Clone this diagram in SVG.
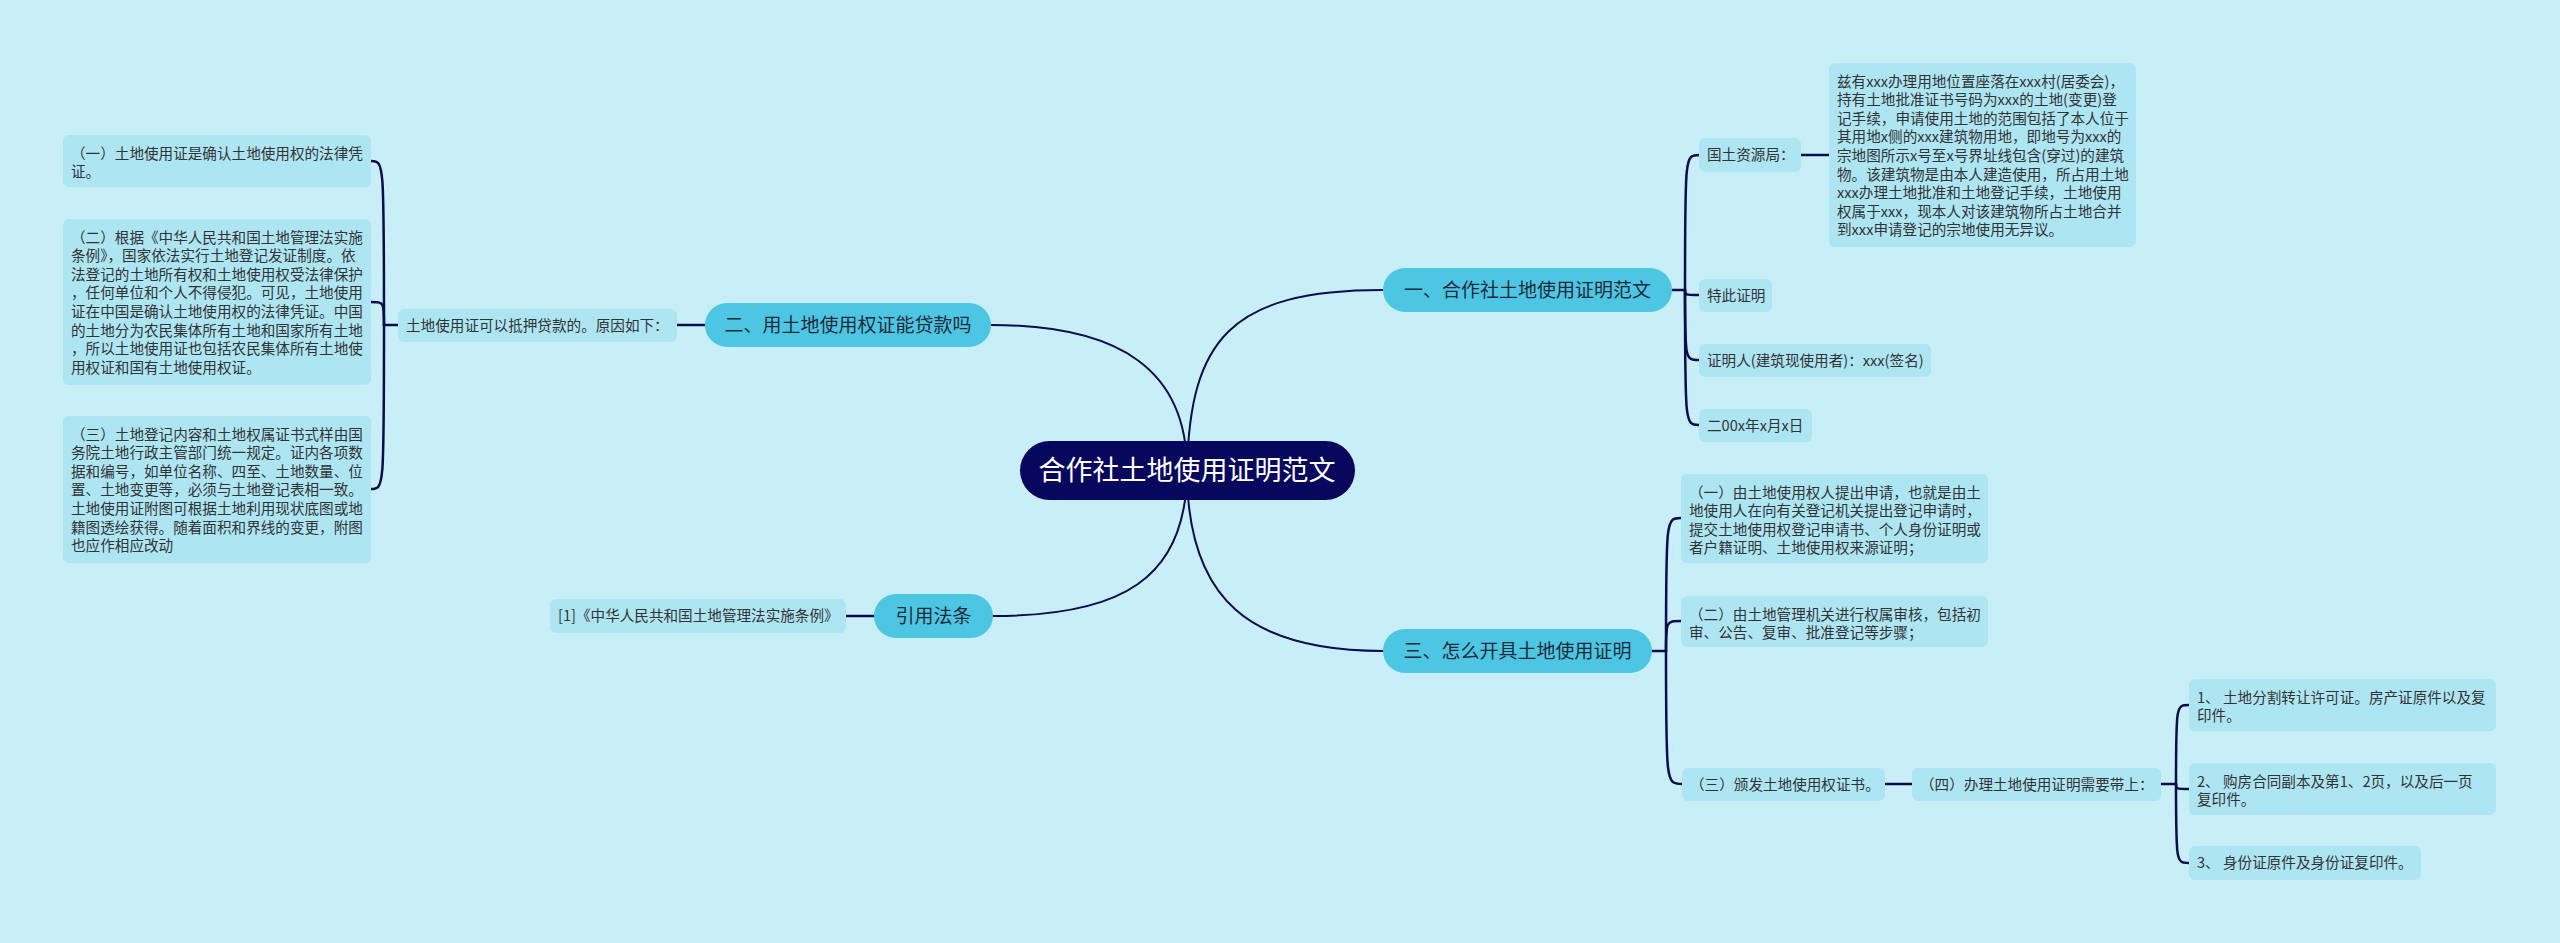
<svg xmlns="http://www.w3.org/2000/svg" width="2560" height="943" viewBox="0 0 2560 943">
<style>
.bg{fill:#c8eff8}
.box{fill:#ade5f3}
.pill{fill:#4cc6e2}
.root{fill:#07075e}
.t{font-family:"Noto Sans CJK SC","Liberation Sans",sans-serif;font-size:14.6px;fill:#333}
.bt{font-family:"Noto Sans CJK SC","Liberation Sans",sans-serif;font-size:19px;fill:#1e2a3a;text-anchor:middle}
.rt{font-family:"Noto Sans CJK SC","Liberation Sans",sans-serif;font-size:27px;fill:#ffffff;text-anchor:middle}
.c{fill:none;stroke:#0b0b4f;stroke-width:2.5;stroke-linecap:round}
.cc{fill:none;stroke:#0b0b4f;stroke-width:2;stroke-linecap:round}
</style>
<rect class="bg" x="0" y="0" width="2560" height="943"/>
<g id="connectors">
<path class="cc" d="M1187,470 C1190,340 1230,290 1383,290"/>
<path class="cc" d="M1187,470 C1187,370 1120,325 991,325"/>
<path class="cc" d="M1187,470 C1187,600 1250,651 1383,651"/>
<path class="cc" d="M1187,470 C1187,580 1120,616 993,616"/>
<path class="c" d="M705,325 L677,325"/>
<path class="c" d="M398,325 L384,325"/>
<path class="c" d="M384,325 C384,161 384,161 371,161"/>
<path class="c" d="M384,325 C384,302 384,302 371,302"/>
<path class="c" d="M384,325 C384,489 384,489 371,489"/>
<path class="c" d="M874,616 L846,616"/>
<path class="c" d="M1672,290 L1685,290"/>
<path class="c" d="M1685,290 C1685,155 1685,155 1699,155"/>
<path class="c" d="M1685,290 C1685,295 1685,295 1699,295"/>
<path class="c" d="M1685,290 C1685,360 1685,360 1699,360"/>
<path class="c" d="M1685,290 C1685,425 1685,425 1699,425"/>
<path class="c" d="M1801,155 L1829,155"/>
<path class="c" d="M1652,651 L1666,651"/>
<path class="c" d="M1666,651 C1666,518 1666,518 1681,518"/>
<path class="c" d="M1666,651 C1666,621 1666,621 1681,621"/>
<path class="c" d="M1666,651 C1666,784 1666,784 1682,784"/>
<path class="c" d="M1885,784 L1912,784"/>
<path class="c" d="M2161,784 L2176,784"/>
<path class="c" d="M2176,784 C2176,705 2176,705 2189,705"/>
<path class="c" d="M2176,784 C2176,789 2176,789 2189,789"/>
<path class="c" d="M2176,784 C2176,863 2176,863 2189,863"/>
</g>
<g id="root">
<rect class="root" x="1020" y="441" width="335" height="59" rx="29.5"/>
<text class="rt" x="1187" y="480">合作社土地使用证明范文</text>
</g>
<g id="b1">
<rect class="pill" x="1383" y="268" width="289" height="44" rx="22"/>
<text class="bt" x="1527.5" y="297">一、合作社土地使用证明范文</text>
</g>
<g id="b2">
<rect class="pill" x="705" y="303" width="286" height="44" rx="22"/>
<text class="bt" x="848" y="332">二、用土地使用权证能贷款吗</text>
</g>
<g id="b3">
<rect class="pill" x="1383" y="629" width="269" height="44" rx="22"/>
<text class="bt" x="1517.5" y="658">三、怎么开具土地使用证明</text>
</g>
<g id="b4">
<rect class="pill" x="874" y="594" width="119" height="44" rx="22"/>
<text class="bt" x="933.5" y="623">引用法条</text>
</g>
<g id="n-loan">
<rect class="box" x="398" y="309" width="279" height="33" rx="6"/>
<text class="t" x="406" y="330.5">土地使用证可以抵押贷款的。原因如下：</text>
</g>
<g id="n-l1">
<rect class="box" x="63" y="135" width="308" height="52" rx="6"/>
<text class="t" x="71" y="158.5">（一）土地使用证是确认土地使用权的法律凭<tspan x="71" dy="18.6">证。</tspan></text>
</g>
<g id="n-l2">
<rect class="box" x="63" y="219" width="308" height="166" rx="6"/>
<text class="t" x="71" y="242.5">（二）根据《中华人民共和国土地管理法实施<tspan x="71" dy="18.6">条例》，国家依法实行土地登记发证制度。依</tspan><tspan x="71" dy="18.6">法登记的土地所有权和土地使用权受法律保护</tspan><tspan x="71" dy="18.6">，任何单位和个人不得侵犯。可见，土地使用</tspan><tspan x="71" dy="18.6">证在中国是确认土地使用权的法律凭证。中国</tspan><tspan x="71" dy="18.6">的土地分为农民集体所有土地和国家所有土地</tspan><tspan x="71" dy="18.6">，所以土地使用证也包括农民集体所有土地使</tspan><tspan x="71" dy="18.6">用权证和国有土地使用权证。</tspan></text>
</g>
<g id="n-l3">
<rect class="box" x="63" y="416" width="308" height="147" rx="6"/>
<text class="t" x="71" y="439.5">（三）土地登记内容和土地权属证书式样由国<tspan x="71" dy="18.6">务院土地行政主管部门统一规定。证内各项数</tspan><tspan x="71" dy="18.6">据和编号，如单位名称、四至、土地数量、位</tspan><tspan x="71" dy="18.6">置、土地变更等，必须与土地登记表相一致。</tspan><tspan x="71" dy="18.6">土地使用证附图可根据土地利用现状底图或地</tspan><tspan x="71" dy="18.6">籍图透绘获得。随着面积和界线的变更，附图</tspan><tspan x="71" dy="18.6">也应作相应改动</tspan></text>
</g>
<g id="n-ref">
<rect class="box" x="550" y="599" width="296" height="34" rx="6"/>
<text class="t" x="558" y="621">[1]《中华人民共和国土地管理法实施条例》</text>
</g>
<g id="n-guotu">
<rect class="box" x="1699" y="138" width="102" height="34" rx="6"/>
<text class="t" x="1707" y="160">国土资源局：</text>
</g>
<g id="n-letter">
<rect class="box" x="1829" y="63" width="307" height="184" rx="6"/>
<text class="t" x="1837" y="86.5">兹有xxx办理用地位置座落在xxx村(居委会)，<tspan x="1837" dy="18.6">持有土地批准证书号码为xxx的土地(变更)登</tspan><tspan x="1837" dy="18.6">记手续，申请使用土地的范围包括了本人位于</tspan><tspan x="1837" dy="18.6">其用地x侧的xxx建筑物用地，即地号为xxx的</tspan><tspan x="1837" dy="18.6">宗地图所示x号至x号界址线包含(穿过)的建筑</tspan><tspan x="1837" dy="18.6">物。该建筑物是由本人建造使用，所占用土地</tspan><tspan x="1837" dy="18.6">xxx办理土地批准和土地登记手续，土地使用</tspan><tspan x="1837" dy="18.6">权属于xxx，现本人对该建筑物所占土地合并</tspan><tspan x="1837" dy="18.6">到xxx申请登记的宗地使用无异议。</tspan></text>
</g>
<g id="n-tezi">
<rect class="box" x="1699" y="279" width="73" height="33" rx="6"/>
<text class="t" x="1707" y="300.5">特此证明</text>
</g>
<g id="n-zmr">
<rect class="box" x="1699" y="344" width="232" height="33" rx="6"/>
<text class="t" x="1707" y="365.5">证明人(建筑现使用者)：xxx(签名)</text>
</g>
<g id="n-date">
<rect class="box" x="1699" y="409" width="113" height="33" rx="6"/>
<text class="t" x="1707" y="430.5">二00x年x月x日</text>
</g>
<g id="n-s1">
<rect class="box" x="1681" y="474" width="307" height="89" rx="6"/>
<text class="t" x="1689" y="497.5">（一）由土地使用权人提出申请，也就是由土<tspan x="1689" dy="18.6">地使用人在向有关登记机关提出登记申请时，</tspan><tspan x="1689" dy="18.6">提交土地使用权登记申请书、个人身份证明或</tspan><tspan x="1689" dy="18.6">者户籍证明、土地使用权来源证明；</tspan></text>
</g>
<g id="n-s2">
<rect class="box" x="1681" y="596" width="307" height="51" rx="6"/>
<text class="t" x="1689" y="619.5">（二）由土地管理机关进行权属审核，包括初<tspan x="1689" dy="18.6">审、公告、复审、批准登记等步骤；</tspan></text>
</g>
<g id="n-s3">
<rect class="box" x="1682" y="768" width="203" height="33" rx="6"/>
<text class="t" x="1690" y="789.5">（三）颁发土地使用权证书。</text>
</g>
<g id="n-s4">
<rect class="box" x="1912" y="768" width="249" height="33" rx="6"/>
<text class="t" x="1920" y="789.5">（四）办理土地使用证明需要带上：</text>
</g>
<g id="n-d1">
<rect class="box" x="2189" y="679" width="307" height="52" rx="6"/>
<text class="t" x="2197" y="702.5">1、 土地分割转让许可证。房产证原件以及复<tspan x="2197" dy="18.6">印件。</tspan></text>
</g>
<g id="n-d2">
<rect class="box" x="2189" y="763" width="307" height="52" rx="6"/>
<text class="t" x="2197" y="786.5">2、 购房合同副本及第1、2页，以及后一页<tspan x="2197" dy="18.6">复印件。</tspan></text>
</g>
<g id="n-d3">
<rect class="box" x="2189" y="846" width="232" height="34" rx="6"/>
<text class="t" x="2197" y="868">3、 身份证原件及身份证复印件。</text>
</g>
</svg>
